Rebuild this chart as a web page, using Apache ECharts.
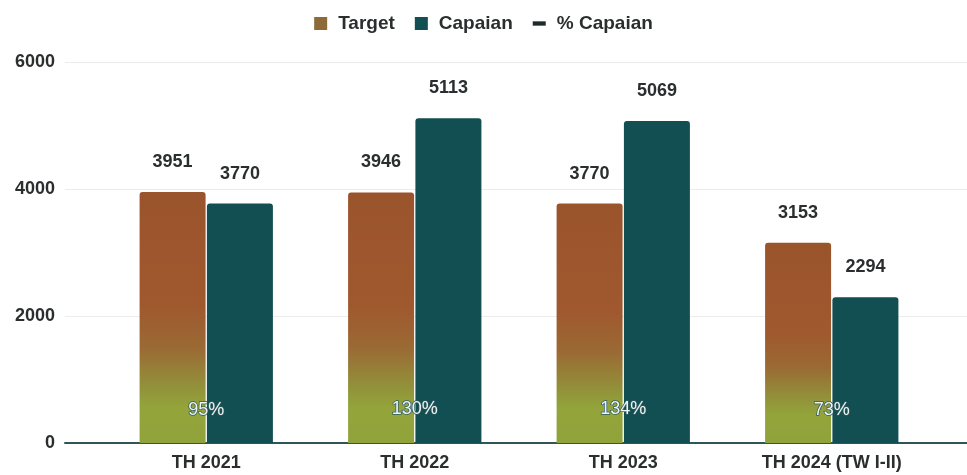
<!DOCTYPE html>
<html><head><meta charset="utf-8">
<script src="https://cdn.jsdelivr.net/npm/echarts@6/dist/echarts.min.js"></script>
<style>html,body{margin:0;padding:0;background:#fff}#c{width:967px;height:475px}</style>
</head><body><div id="c"></div>
<script>
const categories = ['TH 2021', 'TH 2022', 'TH 2023', 'TH 2024 (TW I-II)'];
const target = [3951, 3946, 3770, 3153];
const capaian = [3770, 5113, 5069, 2294];
const persen = [95, 130, 134, 73];
const yTicks = [0, 2000, 4000, 6000];

const FONT = '"Liberation Sans", Arial, sans-serif';
const TXT = '#2a2e2e';
const chart = echarts.init(document.getElementById('c'), null, {renderer:'canvas'});
const targetGrad = {type:'linear', x:0, y:0, x2:0, y2:1, colorStops:[
  {offset:0, color:'#9a542c'},
  {offset:0.45, color:'#a0582e'},
  {offset:0.62, color:'#9a6a34'},
  {offset:0.78, color:'#92923a'},
  {offset:0.86, color:'#93a53a'},
  {offset:1, color:'#90a23a'}
]};
chart.setOption({
  animation:false,
  textStyle:{fontFamily:FONT},
  legend:{
    top:9, left:'center', itemGap:20, itemWidth:13, itemHeight:13,
    textStyle:{fontFamily:FONT, fontWeight:'bold', fontSize:19, color:TXT, padding:[0,0,0,6]},
    data:[
      {name:'Target', icon:'rect', itemStyle:{color:'#8c6a3a'}},
      {name:'Capaian', icon:'rect', itemStyle:{color:'#124f52'}},
      {name:'% Capaian', icon:'path://M0,0 L12,0 L12,4 L0,4 Z', itemStyle:{color:'#1f2a2a'}}
    ]
  },
  grid:[
    {left:65, right:0, top:62, bottom:32},
    {left:102, right:31, top:62, bottom:32}
  ],
  xAxis:[
    {gridIndex:0, type:'category', data:categories, axisLabel:{show:false}, axisTick:{show:false},
     axisLine:{lineStyle:{color:'#2f5557', width:2}}},
    {gridIndex:1, type:'category', data:categories, axisTick:{show:false}, axisLine:{show:false},
     axisLabel:{margin:11, fontFamily:FONT, fontWeight:'bold', fontSize:18, color:TXT}}
  ],
  yAxis:[
    {gridIndex:0, type:'value', min:yTicks[0], max:yTicks[yTicks.length-1], interval:2000,
     axisLabel:{margin:10, formatter:v=>String(v), fontFamily:FONT, fontWeight:'bold', fontSize:18, color:TXT},
     splitLine:{lineStyle:{color:'#ececec', width:1}}},
    {gridIndex:1, type:'value', min:yTicks[0], max:yTicks[yTicks.length-1], interval:2000, show:false,
     splitLine:{show:false}},
    {gridIndex:1, type:'value', min:0, max:100000, show:false, splitLine:{show:false}}
  ],
  series:[
    {name:'Target', type:'bar', xAxisIndex:1, yAxisIndex:1, data:target, barWidth:66, barGap:'2%',
     itemStyle:{color:targetGrad, borderRadius:[3,3,0,0]},
     label:{show:true, position:'top', distance:21, fontFamily:FONT, fontWeight:'bold', fontSize:18, color:TXT}},
    {name:'Capaian', type:'bar', xAxisIndex:1, yAxisIndex:1, data:capaian, barWidth:66,
     itemStyle:{color:'#124f52', borderRadius:[3,3,0,0]},
     label:{show:true, position:'top', distance:21, fontFamily:FONT, fontWeight:'bold', fontSize:18, color:TXT}},
    {name:'% Capaian', type:'line', xAxisIndex:1, yAxisIndex:2, data:persen, showSymbol:true, symbolSize:0,
     lineStyle:{opacity:0}, itemStyle:{color:'#1f2a2a'}, z:10,
     label:{show:true, position:'top', distance:24, formatter:p=>p.value+'%',
       fontFamily:FONT, fontSize:18, color:'#eef3f3', textBorderColor:'#2f5c60', textBorderWidth:1.5}}
  ]
});
</script></body></html>
